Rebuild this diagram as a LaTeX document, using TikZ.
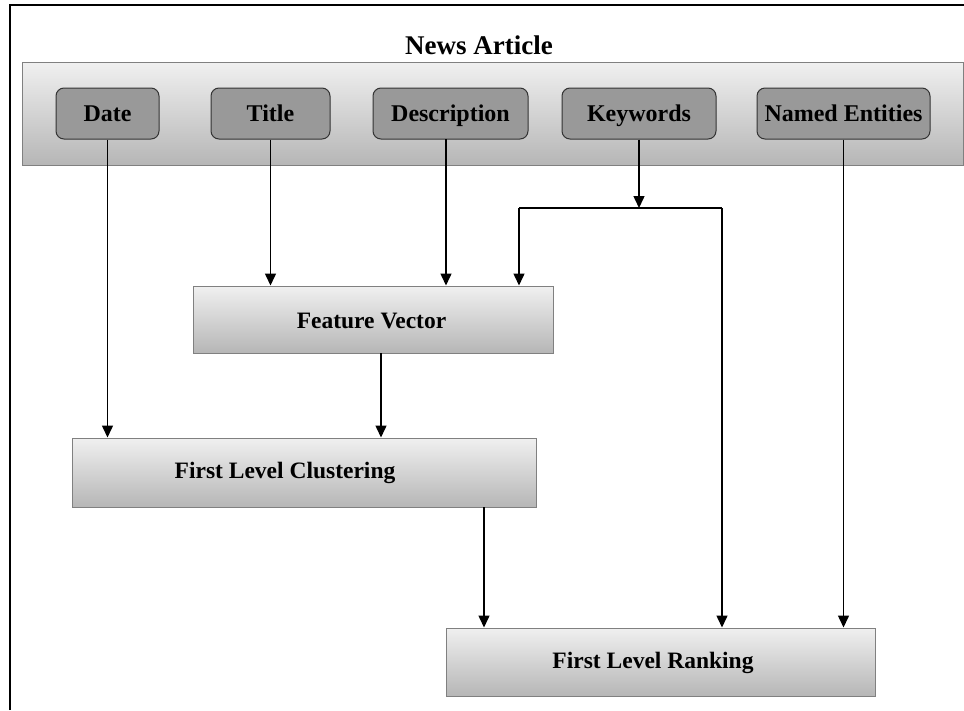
\documentclass[tikz,border=0pt]{standalone}
\usepackage{fontspec}
\setmainfont{Liberation Serif}
\usepackage{tikz}
\usetikzlibrary{arrows.meta, calc}

\definecolor{boxtop}{HTML}{F0F0F0}
\definecolor{boxbottom}{HTML}{B6B6B6}
\definecolor{boxline}{HTML}{808080}
\definecolor{fieldfill}{HTML}{999999}
\definecolor{fieldline}{HTML}{333333}

\tikzset{
  banner/.style={rectangle, draw=boxline, line width=1pt, top color=boxtop, bottom color=boxbottom, inner sep=0pt},
  field/.style={rectangle, rounded corners=8pt, draw=fieldline, line width=1pt, fill=fieldfill, minimum height=51pt, inner sep=0pt, text height=16pt, text depth=1pt, font=\fontsize{24}{28}\selectfont\bfseries},
  stage/.style={rectangle, draw=boxline, line width=1pt, top color=boxtop, bottom color=boxbottom, inner sep=0pt},
  stagetext/.style={font=\fontsize{23.5}{28}\selectfont\bfseries},
  arr/.style={-{Triangle[length=12pt,width=11pt]}, line width=1.5pt},
}

\begin{document}
\begin{tikzpicture}[x=1pt,y=-1pt]
\useasboundingbox (0,0) rectangle (964,710);
\draw[line width=1.5pt] (10,710) -- (10,5) -- (964,5);

% input fields
\node[banner, minimum width=941pt, minimum height=103pt] (article) at (493,113.5) {};
\node[font=\fontsize{27}{31}\selectfont\bfseries] (headline) at (479,45) {News Article};
\node[field, minimum width=103pt] (date) at (107.5,113.5) {Date};
\node[field, minimum width=119pt] (title) at (270.5,113.5) {Title};
\node[field, minimum width=155pt] (desc) at (450.5,113.5) {Description};
\node[field, minimum width=154pt] (keywords) at (639,113.5) {Keywords};
\node[field, minimum width=173pt] (entities) at (843.5,113.5) {Named Entities};

% processing stages
\node[stage, minimum width=360pt, minimum height=67pt] (feature) at (373,319.5) {};
\node[stagetext] (featurelabel) at (371.5,321) {Feature Vector};
\node[stage, minimum width=464pt, minimum height=69pt] (cluster) at (304,472.5) {};
\node[stagetext] (clusterlabel) at (285,473) {First Level Clustering};
\node[stage, minimum width=429pt, minimum height=68pt] (ranking) at (660.5,662) {};
\node[stagetext] (rankinglabel) at (653,663) {First Level Ranking};

\coordinate (descout) at (446,139);
\coordinate (kwsplit) at (639,208);
\coordinate (kwleft) at (519,208);
\coordinate (kwright) at (722,208);
\coordinate (fvout) at (381,353);
\coordinate (clout) at (484,507);

\draw[arr] (date.south) -- (date.south |- cluster.north);
\draw[arr] (title.south) -- (title.south |- feature.north);
\draw[arr] (descout) -- (descout |- feature.north);
\draw[arr] (keywords.south) -- (kwsplit);
\draw[line width=1.5pt] (kwleft) -- (kwright);
\draw[arr] (kwleft) -- (kwleft |- feature.north);
\draw[arr] (kwright) -- (kwright |- ranking.north);
\draw[arr] (entities.south) -- (entities.south |- ranking.north);
\draw[arr] (fvout) -- (fvout |- cluster.north);
\draw[arr] (clout) -- (clout |- ranking.north);
\end{tikzpicture}
\end{document}
